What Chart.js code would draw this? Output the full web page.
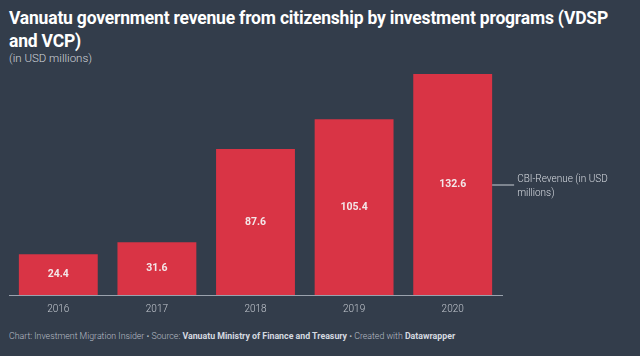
<!DOCTYPE html>
<html><head><meta charset="utf-8">
<script src="https://cdn.jsdelivr.net/npm/chart.js@4"></script>
<style>
html,body{margin:0;padding:0;width:640px;height:356px;background:#333d4b;overflow:hidden;font-family:Roboto,"Open Sans",sans-serif;}
#title{position:absolute;left:9px;top:7px;width:630px;color:#fff;font-weight:700;font-size:17.5px;line-height:23px;letter-spacing:-0.2px;}
#sub{position:absolute;left:9px;top:51px;color:#d0d4da;font-size:11.5px;font-weight:300;}
#foot{position:absolute;left:9px;top:331px;color:#b8bec6;font-size:8.8px;font-weight:300;}
#foot b{font-weight:700;color:#d6dae0;}
#wrap{position:absolute;left:0;top:0;width:640px;height:356px;}
</style></head><body>
<div id="title">Vanuatu government revenue from citizenship by investment programs (VDSP and VCP)</div>
<div id="sub">(in USD millions)</div>
<div id="foot">Chart: Investment Migration Insider • Source: <b>Vanuatu Ministry of Finance and Treasury</b> • Created with <b>Datawrapper</b></div>
<div id="wrap"><canvas id="c" width="640" height="356"></canvas></div>
<script>
const years = ["2016","2017","2018","2019","2020"];
const revenue = [24.4, 31.6, 87.6, 105.4, 132.6];
const seriesLabel = ["CBI-Revenue (in USD", "millions)"];

const labelPlugin = {
  id: 'labels',
  afterDatasetsDraw(chart) {
    const ctx = chart.ctx;
    const meta = chart.getDatasetMeta(0);
    ctx.save();
    ctx.font = 'bold 10.5px Roboto';
    ctx.fillStyle = '#f3e6e8';
    ctx.textAlign = 'center';
    ctx.textBaseline = 'middle';
    meta.data.forEach((bar, i) => {
      const cy = (bar.y + bar.base) / 2;
      ctx.fillText(revenue[i].toFixed(1), bar.x, cy);
    });
    const last = meta.data[meta.data.length - 1];
    const cy = (last.y + last.base) / 2;
    const x0 = last.x + last.width / 2;
    ctx.strokeStyle = '#c9ced5';
    ctx.lineWidth = 1;
    ctx.beginPath();
    ctx.moveTo(x0, cy + 0.5);
    ctx.lineTo(x0 + 22, cy + 0.5);
    ctx.stroke();
    ctx.font = '300 10px Roboto';
    ctx.fillStyle = '#d6dae0';
    ctx.textAlign = 'left';
    ctx.fillText(seriesLabel[0], x0 + 25, cy - 5);
    ctx.fillText(seriesLabel[1], x0 + 25, cy + 9);
    ctx.restore();
  }
};

new Chart(document.getElementById('c'), {
  type: 'bar',
  data: { labels: years, datasets: [{ data: revenue, backgroundColor: '#d93445', borderWidth: 0, barPercentage: 0.8, categoryPercentage: 1.0 }] },
  options: {
    responsive: false, animation: false,
    layout: { padding: { left: 9, right: 138, top: 74, bottom: 33 } },
    plugins: { legend: { display: false }, tooltip: { enabled: false } },
    scales: {
      x: { grid: { display: false, drawTicks: false }, border: { display: true, color: '#9aa2ad', width: 1 },
           ticks: { color: '#c3c8cf', font: { family: 'Roboto', size: 10, weight: '300' }, padding: 8 } },
      y: { display: false, min: 0, max: Math.max(...revenue) }
    }
  },
  plugins: [labelPlugin]
});
</script>
</body></html>
